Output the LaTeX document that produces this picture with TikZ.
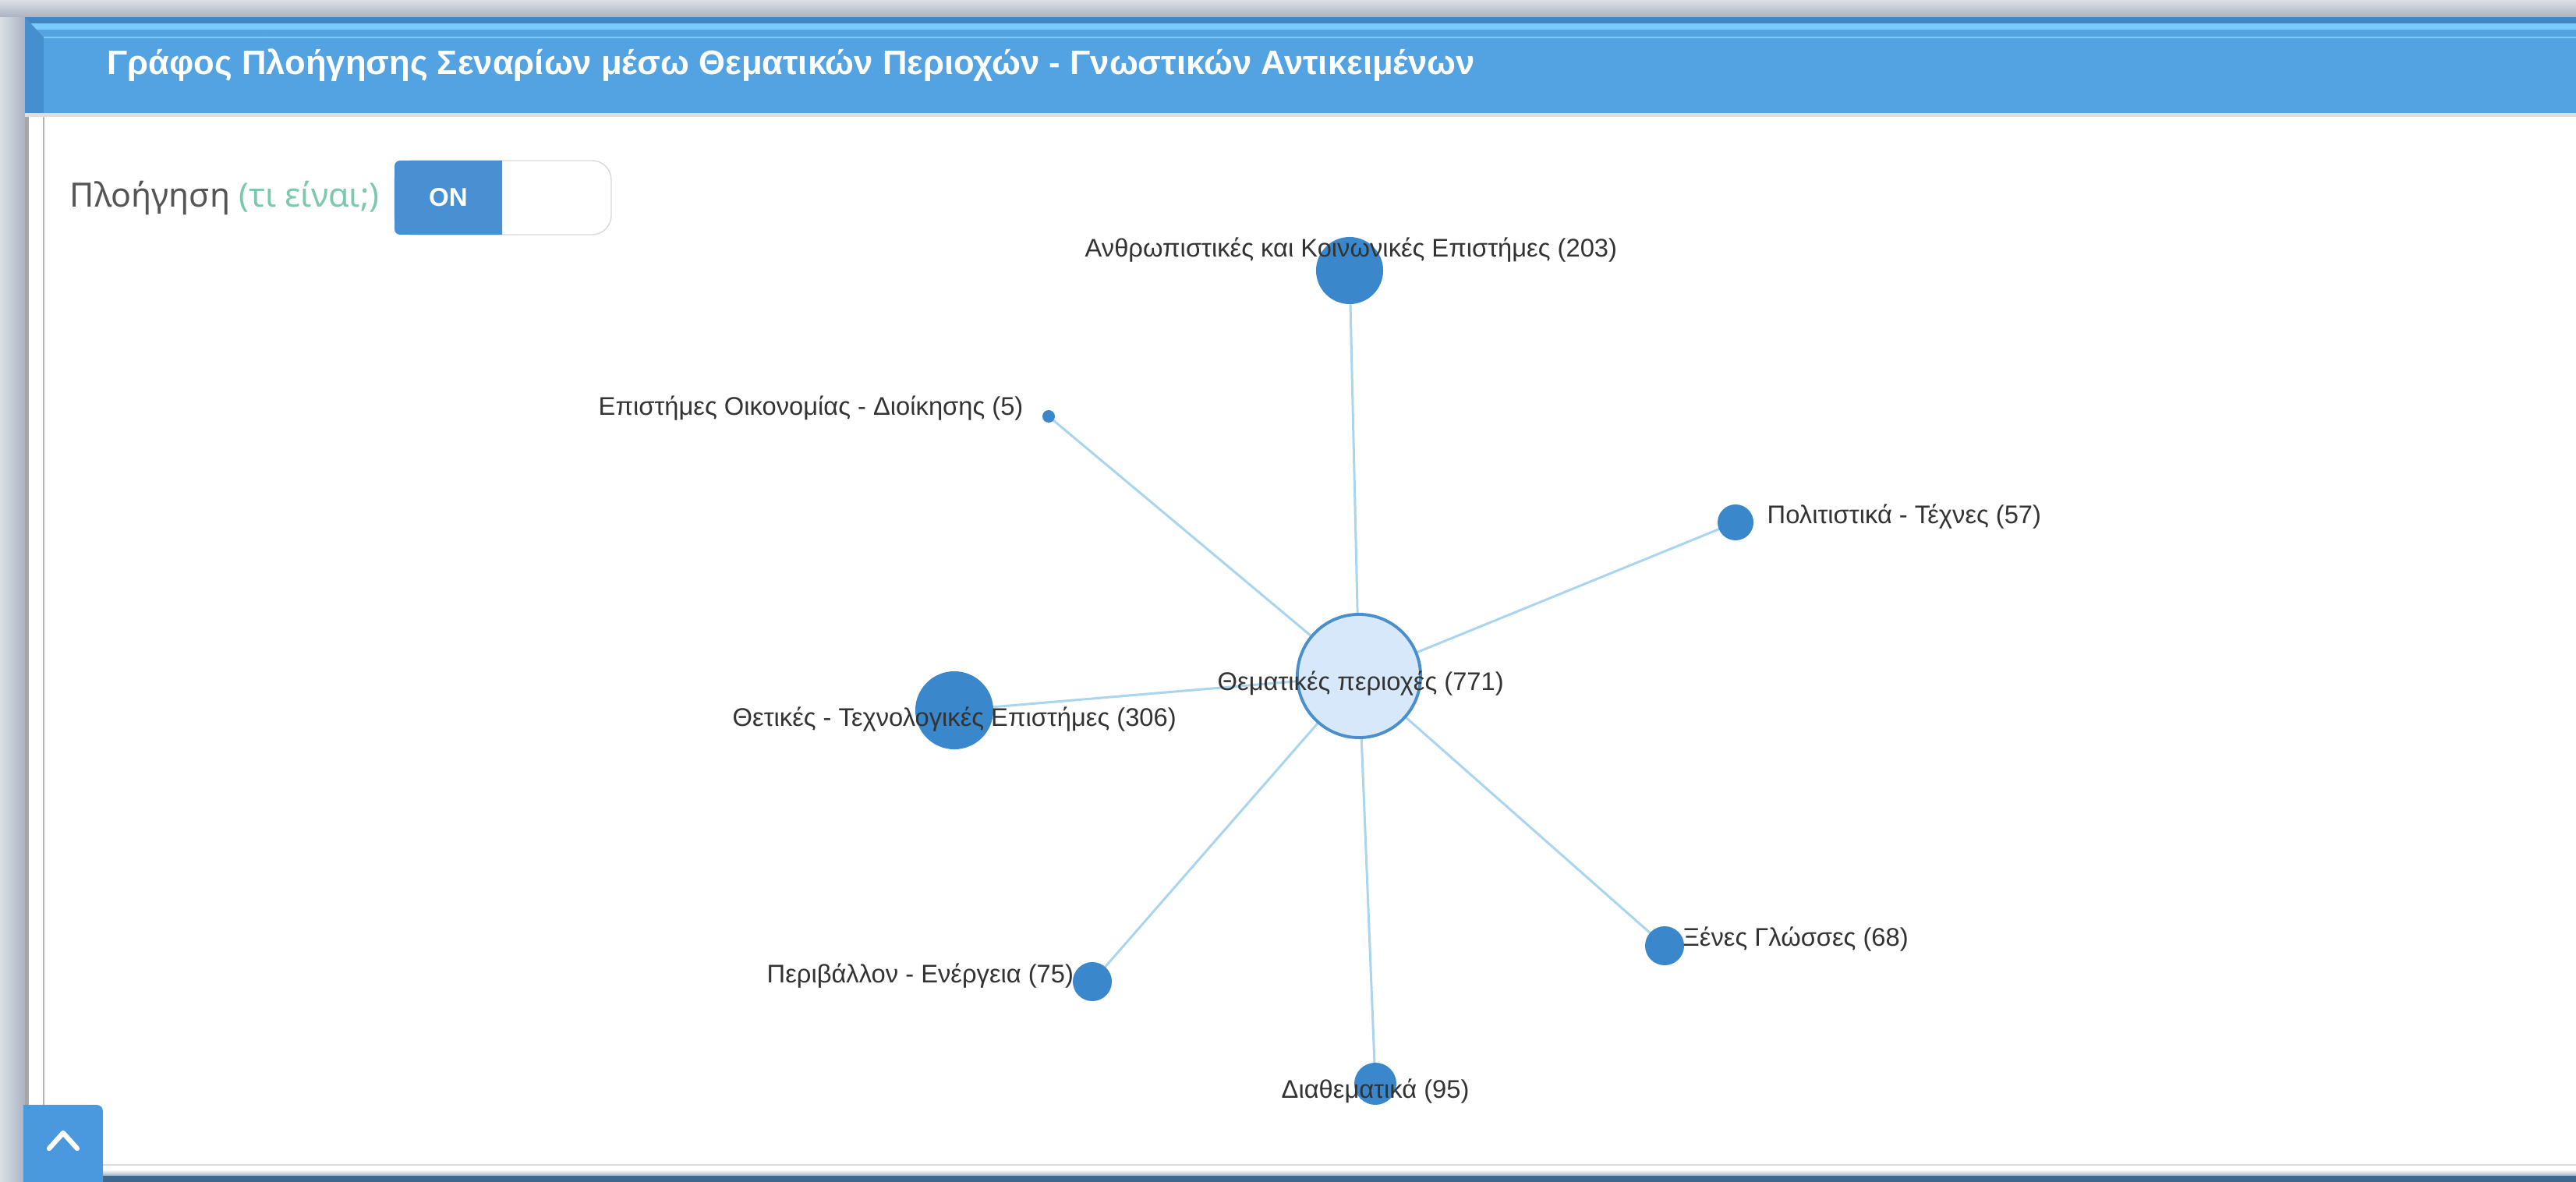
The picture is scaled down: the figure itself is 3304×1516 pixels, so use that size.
\documentclass[tikz,border=0pt]{standalone}
\usepackage{fontspec}
\setmainfont{Liberation Sans}
\newfontfamily\navfont{Noto Sans}
\usetikzlibrary{calc}
\definecolor{hdrblue}{HTML}{53A3E2}
\definecolor{hdrdark}{HTML}{3F86C6}
\definecolor{hdrlight}{HTML}{78CBFB}
\definecolor{hdrmid}{HTML}{55A3E2}
\definecolor{grayA}{HTML}{DCE0E6}
\definecolor{grayB}{HTML}{A9B3C2}
\definecolor{nodeblue}{HTML}{3A88CB}
\definecolor{centerfill}{HTML}{D6E8FA}
\definecolor{centerdraw}{HTML}{4A8FCB}
\definecolor{edgeblue}{HTML}{A9D5EF}
\definecolor{labelgray}{HTML}{333333}
\definecolor{togglblue}{HTML}{4890D2}
\definecolor{teal}{HTML}{7CC9AE}
\definecolor{navgray}{HTML}{555555}
\definecolor{btnblue}{HTML}{4A98DE}
\definecolor{botbar}{HTML}{3B6890}
\pgfdeclarelayer{bg}
\pgfdeclarelayer{edges}
\pgfsetlayers{bg,edges,main}
\tikzset{
  dot/.style={circle, fill=nodeblue, draw=none, inner sep=0pt, minimum size=#1},
  hub/.style={circle, fill=centerfill, draw=centerdraw, line width=1.1pt, inner sep=0pt, minimum size=1.58cm},
  lbl/.style={font=\fontsize{9.3}{11}\selectfont, text=labelgray, inner sep=0pt, anchor=base west},
  edge/.style={draw=edgeblue, line width=0.85pt}
}
\begin{document}
\begin{tikzpicture}[x=0.01cm,y=-0.01cm]
\useasboundingbox (0,0) rectangle (3304,1516);
\begin{pgfonlayer}{bg}
  \fill[white] (0,0) rectangle (3304,1516);
  % left gray strip
  \shade[left color=grayA, right color=grayB] (0,0) rectangle (32,1516);
  % top gray band
  \shade[top color=grayA, bottom color=grayB] (0,0) rectangle (3304,22);
  % blue header frame
  \fill[hdrdark] (32,22) rectangle (3304,30);
  \fill[hdrlight] (32,30) rectangle (3304,38);
  \fill[hdrmid] (32,38) rectangle (3304,48);
  \fill[hdrdark!70!hdrblue] (32,22) -- (56,48) -- (56,145) -- (32,145) -- cycle;
  \fill[hdrblue] (56,48) rectangle (3304,145);
  \draw[hdrlight, line width=0.6pt] (56,48) -- (3304,48);
  \fill[gray!25] (32,145) rectangle (3304,150);
  % left shadow line of panel
  \fill[gray!70] (32,150) rectangle (37,1516);
  % inner panel borders
  \draw[gray!60, line width=0.4pt] (56,150) -- (56,1494);
  \draw[gray!30, line width=0.8pt] (56,1494) -- (3304,1494);
  % bottom bar
  \shade[top color=white, bottom color=botbar!50] (37,1500) rectangle (3304,1508);
  \fill[botbar] (37,1508) rectangle (3304,1516);
\end{pgfonlayer}

% title
\node[anchor=base west, inner sep=0pt, text=white, font=\fontsize{12.4}{14}\selectfont\bfseries] (title) at (137,96)
  {Γράφος Πλοήγησης Σεναρίων μέσω Θεματικών Περιοχών - Γνωστικών Αντικειμένων};

% navigation toggle
\node[anchor=base west, inner sep=0pt, font=\navfont\fontsize{12.2}{14}\selectfont] (nav) at (89,266)
  {\textcolor{navgray}{Πλοήγηση} \textcolor{teal}{(τι είναι;)}};
\draw[gray!30, fill=white, rounded corners=7] (506,206) rectangle (784,301);
\fill[togglblue] (644,206) -- (513,206) arc[start angle=270, end angle=180, radius=7]
  -- (506,294) arc[start angle=180, end angle=90, radius=7] -- (644,301) -- cycle;
\node[text=white, font=\fontsize{9.4}{11}\selectfont\bfseries, inner sep=0pt] (on) at (575,253) {ON};

% bottom-left button
\fill[btnblue] (30,1516) -- (30,1417) -- (124,1417) arc[start angle=270, end angle=360, radius=8] -- (132,1516) -- cycle;
\draw[white, line width=1.8pt, line cap=round, line join=round] (63,1473) -- (81,1453) -- (99,1473);

% graph nodes
\node[hub] (c) at (1743,867) {};
\node[dot=0.86cm] (hum) at (1731,347) {};
\node[dot=0.16cm] (eco) at (1345,534) {};
\node[dot=0.46cm] (cul) at (2226,670) {};
\node[dot=1.0cm] (sci) at (1224,911) {};
\node[dot=0.5cm] (env) at (1401,1259) {};
\node[dot=0.5cm] (lang) at (2135,1213) {};
\node[dot=0.54cm] (cross) at (1764,1390) {};

\begin{pgfonlayer}{edges}
  \foreach \n in {hum,eco,cul,sci,env,lang,cross} \draw[edge] (c.center) -- (\n.center);
\end{pgfonlayer}

% labels
\node[lbl] (Lhum) at (1391,330) {Ανθρωπιστικές και Κοινωνικές Επιστήμες (203)};
\node[lbl] (Leco) at (767,533) {Επιστήμες Οικονομίας - Διοίκησης (5)};
\node[lbl] (Lcul) at (2266,671) {Πολιτιστικά - Τέχνες (57)};
\node[lbl] (Lsci) at (939,931) {Θετικές - Τεχνολογικές Επιστήμες (306)};
\node[lbl] (Lenv) at (983,1260) {Περιβάλλον - Ενέργεια (75)};
\node[lbl] (Llang) at (2158,1213) {Ξένες Γλώσσες (68)};
\node[lbl] (Lcross) at (1643,1408) {Διαθεματικά (95)};
\node[lbl] (Lc) at (1561,885) {Θεματικές περιοχές (771)};
\end{tikzpicture}
\end{document}
